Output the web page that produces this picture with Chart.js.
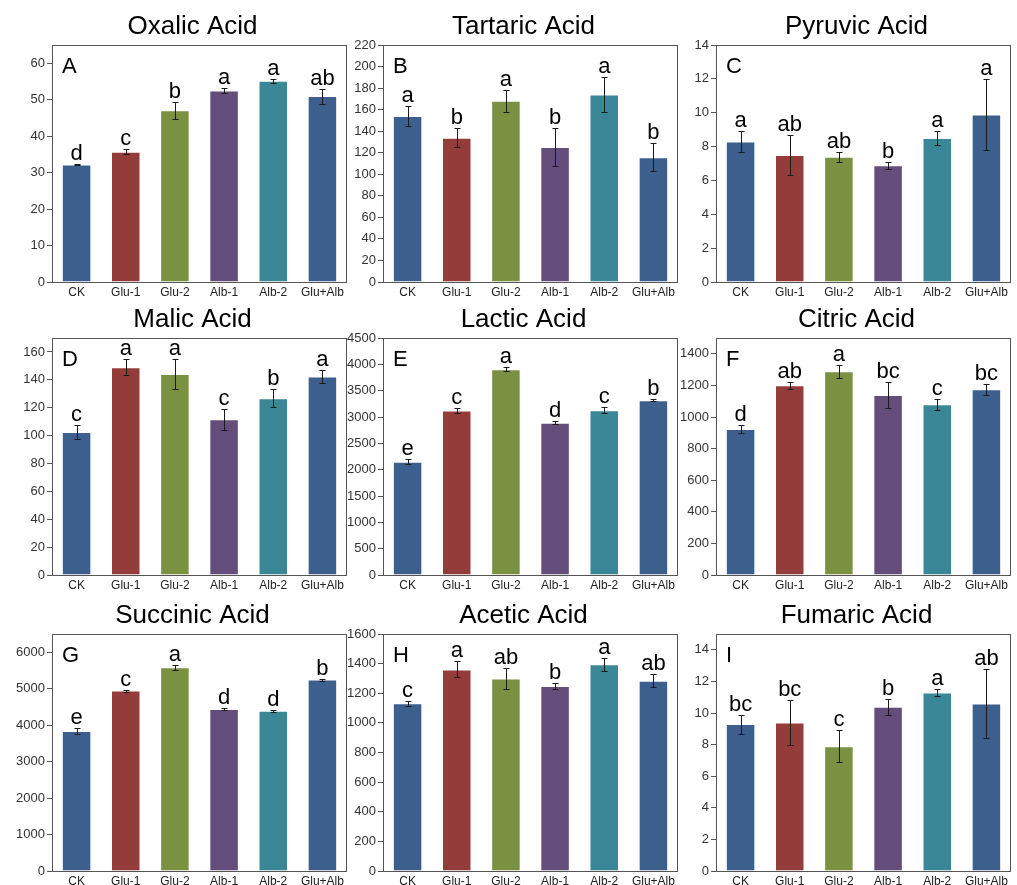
<!DOCTYPE html>
<html>
<head>
<meta charset="utf-8">
<script src="https://cdn.jsdelivr.net/npm/chart.js@4.4.1/dist/chart.umd.min.js"></script>
<style>
  html, body { margin: 0; padding: 0; background: #fff; overflow: hidden; width: 1017px; height: 885px; }
  .panel { position: absolute; }
</style>
</head>
<body>
<script>
const groups = ['CK', 'Glu-1', 'Glu-2', 'Alb-1', 'Alb-2', 'Glu+Alb'];
const barColors = ['#3d5f8e', '#943c3a', '#7a9142', '#644c7b', '#3a8797', '#3d5f8e'];

const titles = ['Oxalic Acid', 'Tartaric Acid', 'Pyruvic Acid', 'Malic Acid', 'Lactic Acid',
                'Citric Acid', 'Succinic Acid', 'Acetic Acid', 'Fumaric Acid'];
const panelLetters = ['A', 'B', 'C', 'D', 'E', 'F', 'G', 'H', 'I'];
const yMax = [65, 220, 14, 170, 4500, 1500, 6500, 1600, 15];
const yStep = [10, 20, 2, 20, 500, 200, 1000, 200, 2];

// means, standard deviations and significance letters per acid
const oxalicMean = [32.2, 35.7, 47.1, 52.5, 55.2, 51.0];
const oxalicSd   = [0.2, 0.7, 2.4, 0.75, 0.5, 2.05];
const oxalicSig  = ['d', 'c', 'b', 'a', 'a', 'ab'];

const tartaricMean = [154.0, 133.9, 168.2, 125.3, 174.0, 115.9];
const tartaricSd   = [9.6, 8.8, 10.2, 17.2, 16.1, 13.2];
const tartaricSig  = ['a', 'b', 'a', 'b', 'a', 'b'];

const pyruvicMean = [8.3, 7.5, 7.4, 6.9, 8.5, 9.9];
const pyruvicSd   = [0.6, 1.2, 0.3, 0.2, 0.4, 2.1];
const pyruvicSig  = ['a', 'ab', 'ab', 'b', 'a', 'a'];

const malicMean = [102.6, 149.1, 144.1, 111.7, 126.8, 142.4];
const malicSd   = [5.0, 5.6, 10.7, 7.6, 6.3, 4.9];
const malicSig  = ['c', 'a', 'a', 'c', 'b', 'a'];

const lacticMean = [2152, 3124, 3907, 2891, 3130, 3320];
const lacticSd   = [50, 45, 38, 28, 60, 22];
const lacticSig  = ['e', 'c', 'a', 'd', 'c', 'b'];

const citricMean = [924, 1201, 1289, 1140, 1080, 1176];
const citricSd   = [24, 22, 41, 82, 33, 34];
const citricSig  = ['d', 'ab', 'a', 'bc', 'c', 'bc'];

const succinicMean = [3841, 4948, 5585, 4442, 4395, 5250];
const succinicSd   = [73, 27, 70, 40, 30, 27];
const succinicSig  = ['e', 'c', 'a', 'd', 'd', 'b'];

const aceticMean = [1133, 1361, 1299, 1249, 1396, 1284];
const aceticSd   = [17, 54, 73, 18, 44, 44];
const aceticSig  = ['c', 'a', 'ab', 'b', 'a', 'ab'];

const fumaricMean = [9.3, 9.4, 7.9, 10.4, 11.3, 10.6];
const fumaricSd   = [0.6, 1.4, 1.0, 0.5, 0.2, 2.2];
const fumaricSig  = ['bc', 'bc', 'c', 'b', 'a', 'ab'];

const means = [oxalicMean, tartaricMean, pyruvicMean, malicMean, lacticMean,
               citricMean, succinicMean, aceticMean, fumaricMean];
const sds = [oxalicSd, tartaricSd, pyruvicSd, malicSd, lacticSd,
             citricSd, succinicSd, aceticSd, fumaricSd];
const sigs = [oxalicSig, tartaricSig, pyruvicSig, malicSig, lacticSig,
              citricSig, succinicSig, aceticSig, fumaricSig];

const FONT = '"Liberation Sans", Arial, sans-serif';
const colLeft = [0, 331, 664];
const rowTop = [0, 293, 589];

// error bars, significance letters, frame, title and panel letter
const panelDeco = {
  id: 'panelDeco',
  afterDatasetsDraw(chart, args, opts) {
    const ctx = chart.ctx;
    const a = chart.chartArea;
    const y = chart.scales.y;
    const bars = chart.getDatasetMeta(0).data;
    ctx.save();
    ctx.strokeStyle = '#1a1a1a';
    ctx.lineWidth = 1;
    bars.forEach((bar, i) => {
      const m = opts.mean[i], e = opts.sd[i];
      const yt = Math.round(y.getPixelForValue(m + e)) + 0.5;
      const yb = Math.round(y.getPixelForValue(m - e)) + 0.5;
      const x = Math.round(bar.x) + 0.5;
      ctx.beginPath();
      ctx.moveTo(x, yt); ctx.lineTo(x, yb);
      ctx.moveTo(x - 3, yt); ctx.lineTo(x + 3, yt);
      ctx.moveTo(x - 3, yb); ctx.lineTo(x + 3, yb);
      ctx.stroke();
      ctx.fillStyle = '#000';
      ctx.font = '22px ' + FONT;
      ctx.textAlign = 'center';
      ctx.textBaseline = 'alphabetic';
      ctx.fillText(opts.sig[i], bar.x, yt - 5);
    });
    ctx.strokeStyle = '#555';
    ctx.strokeRect(a.left + 0.5, a.top + 0.5, a.width - 1, a.height);
    ctx.fillStyle = '#000';
    ctx.font = '26px ' + FONT;
    ctx.textAlign = 'center';
    ctx.fillText(opts.title, (a.left + a.right) / 2 - 7, a.top - 11);
    ctx.font = '22px ' + FONT;
    ctx.textAlign = 'left';
    ctx.fillText(opts.letter, a.left + 10, a.top + 28);
    ctx.restore();
  }
};

titles.forEach((title, i) => {
  const div = document.createElement('div');
  div.className = 'panel';
  div.style.left = colLeft[i % 3] + 'px';
  div.style.top = rowTop[Math.floor(i / 3)] + 'px';
  const canvas = document.createElement('canvas');
  canvas.width = 353;
  canvas.height = 306;
  div.appendChild(canvas);
  document.body.appendChild(div);

  const step = yStep[i];
  const top = yMax[i];
  new Chart(canvas.getContext('2d'), {
    type: 'bar',
    data: {
      labels: groups,
      datasets: [{
        data: means[i],
        backgroundColor: barColors,
        borderColor: 'rgba(255,255,255,0.55)',
        borderWidth: 1,
        barPercentage: 0.6,
        categoryPercentage: 1.0
      }]
    },
    options: {
      responsive: false,
      animation: false,
      layout: { padding: { top: 45, right: 6, left: 0, bottom: 0 } },
      plugins: {
        legend: { display: false },
        tooltip: { enabled: false },
        panelDeco: { mean: means[i], sd: sds[i], sig: sigs[i], title: title, letter: panelLetters[i] }
      },
      scales: {
        x: {
          grid: { display: false, drawTicks: false, tickLength: 0 },
          border: { display: false },
          ticks: { color: '#222', font: { size: 12, family: FONT }, padding: 3, maxRotation: 0, autoSkip: false },
          afterFit(s) { s.height = 24; }
        },
        y: {
          min: 0,
          max: top,
          ticks: {
            color: '#333',
            font: { size: 13, family: FONT },
            padding: 2,
            callback: v => String(v)
          },
          grid: { drawOnChartArea: false, tickLength: 5, color: '#555' },
          border: { display: false },
          afterBuildTicks(s) {
            const t = [];
            for (let v = 0; v <= top + 1e-9; v += step) t.push({ value: v });
            s.ticks = t;
          },
          afterFit(s) { s.width = 52; }
        }
      }
    },
    plugins: [panelDeco]
  });
});
</script>
</body>
</html>
